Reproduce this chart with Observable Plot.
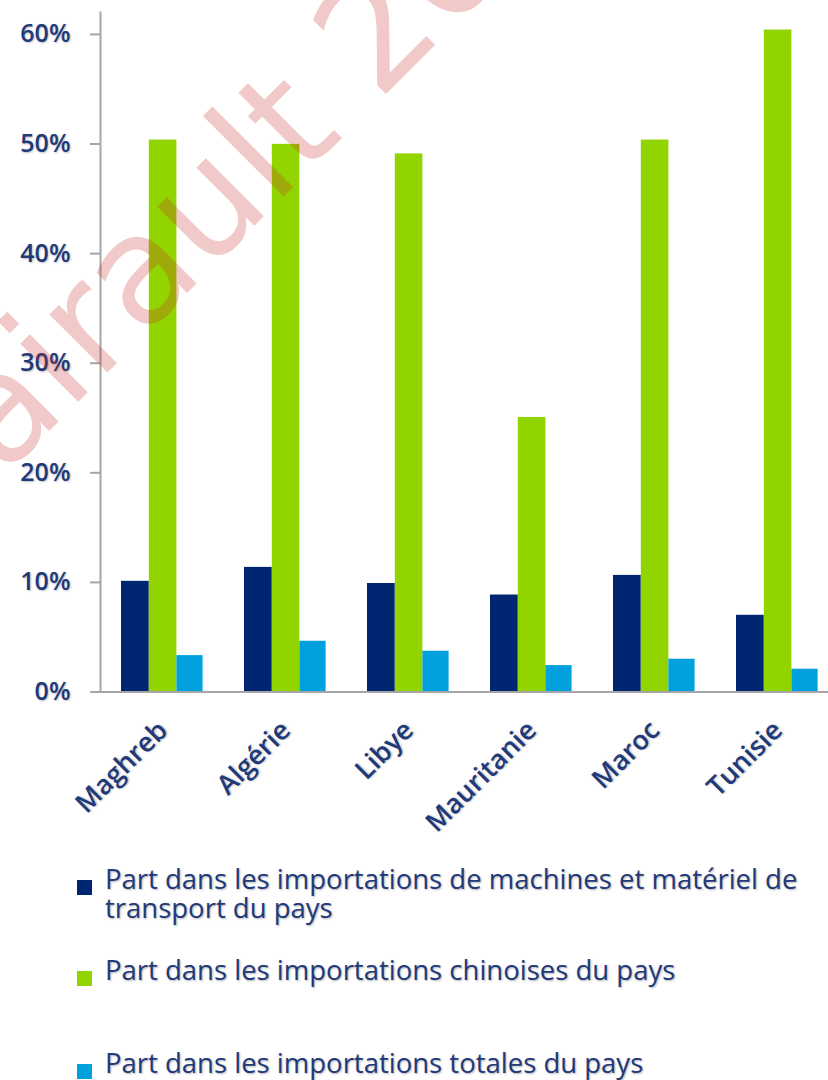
<!DOCTYPE html>
<html>
<head>
<meta charset="utf-8">
<script src="https://cdn.jsdelivr.net/npm/d3@7"></script>
<script src="https://cdn.jsdelivr.net/npm/@observablehq/plot@0.6"></script>
<style>
  html, body { margin: 0; padding: 0; background: #fff; }
  body { width: 828px; height: 1080px; position: relative; overflow: hidden; font-family: "Open Sans", sans-serif; }
  #chart { position: absolute; left: 0; top: 0; }
  .leg-sw { position: absolute; width: 15px; height: 15px; }
  .leg-tx { position: absolute; left: 105px; font-size: 27.5px; line-height: 29px; color: #1f3a7a; white-space: nowrap;
            text-shadow: 1px 1px 2px rgba(0,0,0,0.3); }
  #wm { position: absolute; left: 0; top: 0; pointer-events: none; }
</style>
</head>
<body>
<div id="chart"></div>
<div class="leg-sw" style="left:77px; top:880px; background:#002672;"></div>
<div class="leg-tx" style="top:864px;">Part dans les importations de machines et matériel de<br>transport du pays</div>
<div class="leg-sw" style="left:77px; top:971px; background:#92d400;"></div>
<div class="leg-tx" style="top:955px;">Part dans les importations chinoises du pays</div>
<div class="leg-sw" style="left:77px; top:1064px; background:#00a1de;"></div>
<div class="leg-tx" style="top:1048px;">Part dans les importations totales du pays</div>
<svg id="wm" width="828" height="1080">
  <text x="-56" y="536" transform="rotate(-45 -56 536)" font-family="DejaVu Sans" font-size="150" fill="rgba(200,40,40,0.25)">Pairault 2014</text>
</svg>
<script>
const countries = ["Maghreb", "Algérie", "Libye", "Mauritanie", "Maroc", "Tunisie"];
const machines  = [0.101, 0.1137, 0.099, 0.0885, 0.1064, 0.070];
const chinoises = [0.5036, 0.4997, 0.491, 0.2505, 0.5036, 0.604];
const totales   = [0.0332, 0.0463, 0.0372, 0.0241, 0.0299, 0.0208];
const yTicks = [0, 0.1, 0.2, 0.3, 0.4, 0.5, 0.6];

const rows = (vals) => countries.map((c, i) => ({country: c, value: vals[i]}));

const textColor = "#1f3a7a";
const axisGray = "#a6a6a6";

const plot = Plot.plot({
  width: 828,
  height: 840,
  marginTop: 12,
  marginLeft: 100,
  marginRight: 0,
  marginBottom: 148.5,
  style: {fontFamily: "Open Sans, sans-serif", background: "transparent"},
  x: {domain: countries, padding: 0, range: [100, 839], label: null},
  y: {domain: [0, 0.62], label: null},
  marks: [
    Plot.barY(rows(machines),  {x: "country", y: "value", fill: "#002672", insetLeft: 20,   insetRight: 75.2}),
    Plot.barY(rows(chinoises), {x: "country", y: "value", fill: "#92d400", insetLeft: 47.8, insetRight: 47.6}),
    Plot.barY(rows(totales),   {x: "country", y: "value", fill: "#00a1de", insetLeft: 75.4, insetRight: 21.4}),
    Plot.ruleY([0], {stroke: axisGray, strokeWidth: 2}),
    Plot.frame({anchor: "left", stroke: axisGray, strokeWidth: 2}),
    Plot.axisY({ticks: yTicks, tickFormat: d => Math.round(d * 100) + "%", tickSize: 10, tickPadding: 20,
                stroke: axisGray, strokeWidth: 2, fill: textColor, fontSize: 25, fontWeight: 600, label: null}),
    Plot.axisX({tickSize: 0, tickRotate: -45, tickPadding: 34, fill: textColor, fontSize: 27, fontWeight: 600, label: null})
  ]
});
plot.querySelectorAll("text").forEach(t => t.setAttribute("style", "text-shadow: 1px 1px 2px rgba(0,0,0,0.25)"));
document.getElementById("chart").appendChild(plot);
</script>
</body>
</html>
